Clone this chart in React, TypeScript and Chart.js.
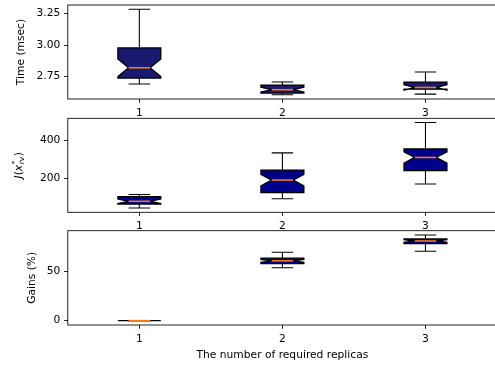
import React, { useEffect, useRef } from "react";
import { Chart, registerables } from "chart.js";

Chart.register(...registerables);

// ---------- data ----------
const positions = [1, 2, 3];
const categoryLabels = ["1", "2", "3"];

// Panel 1: Time (msec)
const timeWhiskerLo = [2.689, 2.604, 2.609];
const timeQ1 = [2.737, 2.617, 2.648];
const timeNotchLo = [2.748, 2.626, 2.640];
const timeMedian = [2.819, 2.644, 2.662];
const timeNotchHi = [2.889, 2.664, 2.684];
const timeQ3 = [2.977, 2.681, 2.705];
const timeWhiskerHi = [3.285, 2.705, 2.785];
const timeTicks = [2.75, 3.0, 3.25];
const timeTickLabels = ["2.75", "3.00", "3.25"];

// Panel 2: J(x*_rv)
const jWhiskerLo = [45, 93, 170];
const jQ1 = [66, 125, 240];
const jNotchLo = [68, 160, 279];
const jMedian = [80, 191, 309];
const jNotchHi = [92, 221, 338];
const jQ3 = [104, 243, 353];
const jWhiskerHi = [116, 333, 491];
const jTicks = [200, 400];
const jTickLabels = ["200", "400"];

// Panel 3: Gains (%)
const gWhiskerLo = [0, 53.8, 70.7];
const gQ1 = [0, 58.1, 78.4];
const gNotchLo = [0, 59.5, 79.8];
const gMedian = [0, 60.9, 81.1];
const gNotchHi = [0, 62.4, 82.4];
const gQ3 = [0, 63.6, 83.2];
const gWhiskerHi = [0, 69.7, 87.2];
const gTicks = [0, 50];
const gTickLabels = ["0", "50"];

const xAxisTitle = "The number of required replicas";

// ---------- styling / layout ----------
const W = 497;
const FONT = "'DejaVu Sans', 'Liberation Sans', sans-serif";
const FS = 10.7;
const TICK_LEN = 3.76;
const LW = 1.07;
const MEDIAN_COLOR = "#f47a1c";

type BoxData = {
  lo: number[]; q1: number[]; nlo: number[]; med: number[]; nhi: number[]; q3: number[]; hi: number[];
};

type PanelSpec = {
  top: number;
  height: number;
  areaTop: number;
  areaBottom: number;
  areaLeft: number;
  fill: string;
  box: BoxData;
  ticks: number[];
  tickLabels: string[];
  yTitle: "time" | "j" | "gains";
  yTitleX: number;
  xTitle?: string;
  xTitleY?: number;
};

const panels: PanelSpec[] = [
  {
    top: 0, height: 117, areaTop: 5, areaBottom: 99, areaLeft: 67.8, fill: "#191970",
    box: { lo: timeWhiskerLo, q1: timeQ1, nlo: timeNotchLo, med: timeMedian, nhi: timeNotchHi, q3: timeQ3, hi: timeWhiskerHi },
    ticks: timeTicks, tickLabels: timeTickLabels, yTitle: "time", yTitleX: 21.5,
  },
  {
    top: 117, height: 113, areaTop: 1.3, areaBottom: 95.3, areaLeft: 67.8, fill: "#00008b",
    box: { lo: jWhiskerLo, q1: jQ1, nlo: jNotchLo, med: jMedian, nhi: jNotchHi, q3: jQ3, hi: jWhiskerHi },
    ticks: jTicks, tickLabels: jTickLabels, yTitle: "j", yTitleX: 18,
  },
  {
    top: 230, height: 138, areaTop: 0.7, areaBottom: 95, areaLeft: 67.8, fill: "#000080",
    box: { lo: gWhiskerLo, q1: gQ1, nlo: gNotchLo, med: gMedian, nhi: gNotchHi, q3: gQ3, hi: gWhiskerHi },
    ticks: gTicks, tickLabels: gTickLabels, yTitle: "gains", yTitleX: 32.3,
    xTitle: xAxisTitle, xTitleY: 125,
  },
];

function limits(lo: number[], hi: number[]) {
  const mn = Math.min(...lo);
  const mx = Math.max(...hi);
  const m = (mx - mn) * 0.05;
  return [mn - m, mx + m];
}

function makePlugin(spec: PanelSpec) {
  return {
    id: "boxplotDraw",
    afterDatasetsDraw(chart: any) {
      const ctx: CanvasRenderingContext2D = chart.ctx;
      const xs = chart.scales.x;
      const ys = chart.scales.y;
      const b = spec.box;
      const y = (v: number) => ys.getPixelForValue(v);
      ctx.save();
      positions.forEach((p, i) => {
        const xl = xs.getPixelForValue(p - 0.15);
        const xr = xs.getPixelForValue(p + 0.15);
        const wl = xs.getPixelForValue(p - 0.075);
        const wr = xs.getPixelForValue(p + 0.075);
        const xc = xs.getPixelForValue(p);
        ctx.strokeStyle = "#000";
        ctx.lineWidth = LW;
        ctx.beginPath();
        ctx.moveTo(xc, y(b.q1[i]));
        ctx.lineTo(xc, y(b.lo[i]));
        ctx.moveTo(xc, y(b.q3[i]));
        ctx.lineTo(xc, y(b.hi[i]));
        ctx.moveTo(wl, y(b.lo[i]));
        ctx.lineTo(wr, y(b.lo[i]));
        ctx.moveTo(wl, y(b.hi[i]));
        ctx.lineTo(wr, y(b.hi[i]));
        ctx.stroke();

        ctx.beginPath();
        ctx.moveTo(xl, y(b.q1[i]));
        ctx.lineTo(xr, y(b.q1[i]));
        ctx.lineTo(xr, y(b.nlo[i]));
        ctx.lineTo(wr, y(b.med[i]));
        ctx.lineTo(xr, y(b.nhi[i]));
        ctx.lineTo(xr, y(b.q3[i]));
        ctx.lineTo(xl, y(b.q3[i]));
        ctx.lineTo(xl, y(b.nhi[i]));
        ctx.lineTo(wl, y(b.med[i]));
        ctx.lineTo(xl, y(b.nlo[i]));
        ctx.closePath();
        ctx.fillStyle = spec.fill;
        ctx.fill();
        ctx.lineWidth = 1.3;
        ctx.stroke();

        ctx.strokeStyle = MEDIAN_COLOR;
        ctx.lineWidth = 1.6;
        ctx.beginPath();
        ctx.moveTo(wl, y(b.med[i]));
        ctx.lineTo(wr, y(b.med[i]));
        ctx.stroke();
      });
      ctx.restore();
    },
    afterDraw(chart: any) {
      const ctx: CanvasRenderingContext2D = chart.ctx;
      const a = chart.chartArea;
      ctx.save();
      ctx.strokeStyle = "#000";
      ctx.lineWidth = 0.86;
      ctx.strokeRect(a.left, a.top, a.right - a.left, a.bottom - a.top);

      ctx.fillStyle = "#000";
      const cy = (a.top + a.bottom) / 2;
      ctx.translate(spec.yTitleX, cy);
      ctx.rotate(-Math.PI / 2);
      if (spec.yTitle === "j") {
        const big = `${FS}px ${FONT}`;
        const bigIt = `oblique ${FS}px ${FONT}`;
        const smIt = `oblique ${FS * 0.7}px ${FONT}`;
        const sm = `${FS * 0.7}px ${FONT}`;
        const w = (t: string, f: string) => { ctx.font = f; return ctx.measureText(t).width; };
        const wJ = w("J", bigIt), wP = w("(", big), wX = w("x", bigIt);
        const wS = Math.max(w("*", sm), w("rv", smIt));
        const wC = w(")", big);
        const total = wJ + wP + wX + wS + wC + 1;
        let x = -total / 2;
        const base = 3.7;
        ctx.textAlign = "left";
        ctx.textBaseline = "alphabetic";
        ctx.font = bigIt; ctx.fillText("J", x, base); x += wJ;
        ctx.font = big; ctx.fillText("(", x, base); x += wP;
        ctx.font = bigIt; ctx.fillText("x", x, base); x += wX + 0.5;
        ctx.font = sm; ctx.fillText("*", x, base - 4.6);
        ctx.font = smIt; ctx.fillText("rv", x, base + 2.6);
        x += wS + 0.5;
        ctx.font = big; ctx.fillText(")", x, base);
      } else {
        ctx.font = `${FS}px ${FONT}`;
        ctx.textAlign = "center";
        ctx.textBaseline = "middle";
        ctx.fillText(spec.yTitle === "time" ? "Time (msec)" : "Gains (%)", 0, 0);
      }
      ctx.restore();

      if (spec.xTitle) {
        ctx.save();
        ctx.fillStyle = "#000";
        ctx.font = `${FS}px ${FONT}`;
        ctx.textAlign = "center";
        ctx.textBaseline = "middle";
        ctx.fillText(spec.xTitle, (a.left + a.right) / 2, spec.xTitleY!);
        ctx.restore();
      }
    },
  };
}

function makeConfig(spec: PanelSpec): any {
  const [ymin, ymax] = limits(spec.box.lo, spec.box.hi);
  const tickFont = { family: FONT, size: FS };
  return {
    type: "scatter",
    data: {
      datasets: [
        {
          data: positions.map((p, i) => ({ x: p, y: spec.box.med[i] })),
          pointRadius: 0,
          pointHoverRadius: 0,
          showLine: false,
        },
      ],
    },
    options: {
      animation: false,
      responsive: false,
      devicePixelRatio: 1,
      events: [],
      layout: { padding: { top: spec.areaTop, left: 0, right: 0, bottom: 0 } },
      plugins: { legend: { display: false }, tooltip: { enabled: false }, title: { display: false } },
      scales: {
        x: {
          type: "linear",
          min: 0.5,
          max: 3.5,
          afterBuildTicks: (s: any) => { s.ticks = positions.map((v) => ({ value: v })); },
          afterFit: (s: any) => {
            s.height = spec.height - spec.areaBottom;
            s.paddingLeft = 0; s.paddingRight = 0; s.paddingTop = 0; s.paddingBottom = 0;
          },
          grid: { display: true, drawOnChartArea: false, drawTicks: true, tickLength: TICK_LEN, color: "#000", lineWidth: 0.86 },
          border: { display: false },
          ticks: {
            font: tickFont, color: "#000", padding: TICK_LEN, maxRotation: 0, autoSkip: false,
            callback: (v: number) => categoryLabels[positions.indexOf(v)] ?? "",
          },
        },
        y: {
          type: "linear",
          min: ymin,
          max: ymax,
          afterBuildTicks: (s: any) => { s.ticks = spec.ticks.map((v) => ({ value: v })); },
          afterFit: (s: any) => {
            s.width = spec.areaLeft;
            s.paddingTop = 0; s.paddingBottom = 0; s.paddingLeft = 0; s.paddingRight = 0;
          },
          grid: { display: true, drawOnChartArea: false, drawTicks: true, tickLength: TICK_LEN, color: "#000", lineWidth: 0.86 },
          border: { display: false },
          ticks: {
            font: tickFont, color: "#000", padding: TICK_LEN, autoSkip: false,
            callback: (v: number) => {
              const k = spec.ticks.findIndex((t) => Math.abs(t - v) < 1e-9);
              return k >= 0 ? spec.tickLabels[k] : "";
            },
          },
        },
      },
    },
    plugins: [makePlugin(spec)],
  };
}

function Panel({ spec }: { spec: PanelSpec }) {
  const ref = useRef<HTMLCanvasElement>(null);
  useEffect(() => {
    if (!ref.current) return;
    const chart = new Chart(ref.current, makeConfig(spec));
    return () => chart.destroy();
  }, [spec]);
  return (
    <canvas
      ref={ref}
      width={W}
      height={spec.height}
      style={{ position: "absolute", left: 0, top: spec.top, width: W, height: spec.height, display: "block" }}
    />
  );
}

export default function App() {
  return (
    <div
      style={{
        position: "fixed", left: 0, top: 0, width: 495, height: 368,
        overflow: "hidden", background: "#fff",
      }}
    >
      {panels.map((p, i) => (
        <Panel key={i} spec={p} />
      ))}
    </div>
  );
}
